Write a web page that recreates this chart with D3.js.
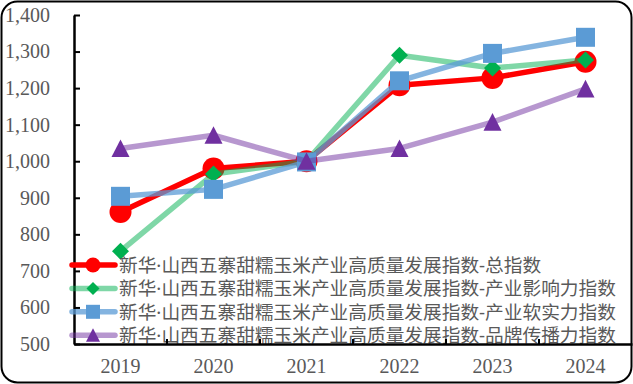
<!DOCTYPE html>
<html>
<head>
<meta charset="utf-8">
<script src="https://cdn.jsdelivr.net/npm/d3@7"></script>
<style>
	html, body { margin: 0; padding: 0; background: #fff; }
	svg { display: block; }
</style>
</head>
<body>
<svg id="chart" width="633" height="384"></svg>
<script>
const years = ['2019', '2020', '2021', '2022', '2023', '2024'];
const yTicks = [500, 600, 700, 800, 900, 1000, 1100, 1200, 1300, 1400];

const seriesNames = [
	'新华·山西五寨甜糯玉米产业高质量发展指数-总指数',
	'新华·山西五寨甜糯玉米产业高质量发展指数-产业影响力指数',
	'新华·山西五寨甜糯玉米产业高质量发展指数-产业软实力指数',
	'新华·山西五寨甜糯玉米产业高质量发展指数-品牌传播力指数'
];
const totalIndex = [861, 980, 1000, 1208, 1228, 1272];
const influenceIndex = [754, 965, 1000, 1290, 1255, 1277];
const softPowerIndex = [904, 923, 998, 1220, 1295, 1339];
const brandIndex = [1035, 1071, 1000, 1035, 1107, 1198];

const W = 633;
const H = 384;
const margin = { top: 15, right: 1, bottom: 40, left: 74 };
const TEXT = '#595959';

// custom markers: diamond = rotated square, triangle centred on its box
const diamond = {
	draw(ctx, size) {
		const r = size / 2;
		ctx.moveTo(0, -r); ctx.lineTo(r, 0); ctx.lineTo(0, r); ctx.lineTo(-r, 0); ctx.closePath();
	}
};
const triangle = {
	draw(ctx, size) {
		const r = size / 2;
		ctx.moveTo(0, -r); ctx.lineTo(r, r * 0.95); ctx.lineTo(-r, r * 0.95); ctx.closePath();
	}
};
const circle = {
	draw(ctx, size) {
		ctx.moveTo(size / 2, 0); ctx.arc(0, 0, size / 2, 0, Math.PI * 2);
	}
};
const square = {
	draw(ctx, size) {
		const r = size / 2;
		ctx.rect(-r, -r, size, size);
	}
};

const series = [
	{ name: seriesNames[0], values: totalIndex, line: '#ff0000', lineOpacity: 1, fill: '#ff0000', shape: circle, size: 22, legendSize: 15 },
	{ name: seriesNames[1], values: influenceIndex, line: '#00b050', lineOpacity: 0.5, fill: '#00b050', shape: diamond, size: 17, legendSize: 13 },
	{ name: seriesNames[2], values: softPowerIndex, line: '#5b9bd5', lineOpacity: 0.75, fill: '#5b9bd5', shape: square, size: 19, legendSize: 14 },
	{ name: seriesNames[3], values: brandIndex, line: '#7030a0', lineOpacity: 0.5, fill: '#7030a0', shape: triangle, size: 18, legendSize: 14 }
];

const $svg = d3.select('#chart');

// frame
$svg.append('rect')
	.attr('x', 1.5).attr('y', 1.5)
	.attr('width', W - 3).attr('height', H - 3)
	.attr('rx', 16).attr('ry', 16)
	.attr('fill', '#fff')
	.attr('stroke', '#000')
	.attr('stroke-width', 2);

const x = d3.scaleBand()
	.domain(years)
	.range([margin.left, W - margin.right])
	.padding(0);

const y = d3.scaleLinear()
	.domain([500, 1400])
	.range([H - margin.bottom, margin.top]);

// y axis
const $yAxis = $svg.append('g')
	.attr('transform', `translate(${margin.left},0)`)
	.call(d3.axisLeft(y).tickValues(yTicks).tickFormat(d3.format(',')).tickSizeInner(-6).tickSizeOuter(0).tickPadding(24));
$yAxis.select('.domain').attr('stroke', '#000').attr('stroke-width', 2.5);
$yAxis.selectAll('.tick line').attr('stroke', '#000').attr('stroke-width', 2);
$yAxis.selectAll('.tick text')
	.attr('fill', TEXT)
	.style('font-family', '"Liberation Serif", serif')
	.style('font-size', '20px');

// x axis
const $xAxis = $svg.append('g')
	.attr('transform', `translate(0,${H - margin.bottom})`)
	.call(d3.axisBottom(x).tickSize(0).tickPadding(15));
$xAxis.select('.domain').attr('stroke', '#000').attr('stroke-width', 2.5);
$xAxis.selectAll('.tick text')
	.attr('fill', TEXT)
	.style('font-family', '"Liberation Serif", serif')
	.style('font-size', '20px');
// small inward ticks between categories
$xAxis.selectAll('.sep')
	.data(years.slice(1))
	.enter()
	.append('line')
	.attr('class', 'sep')
	.attr('x1', d => x(d)).attr('x2', d => x(d))
	.attr('y1', 0).attr('y2', -5)
	.attr('stroke', '#000')
	.attr('stroke-width', 2);

const line = d3.line()
	.x((d, i) => x(years[i]) + x.bandwidth() / 2)
	.y(d => y(d));

const $plot = $svg.append('g');

series.forEach(s => {
	const $g = $plot.append('g');
	$g.append('path')
		.datum(s.values)
		.attr('d', line)
		.attr('fill', 'none')
		.attr('stroke', s.line)
		.attr('stroke-opacity', s.lineOpacity)
		.attr('stroke-width', 5.5)
		.attr('stroke-linejoin', 'round');
	$g.selectAll('.marker')
		.data(s.values)
		.enter()
		.append('path')
		.attr('class', 'marker')
		.attr('d', d3.symbol().type(s.shape).size(s.size))
		.attr('transform', (d, i) => `translate(${x(years[i]) + x.bandwidth() / 2},${y(d)})`)
		.attr('fill', s.fill);
});

// legend
const legendX = 72;
const legendY = 265;
const legendStep = 23.4;
const $legend = $svg.append('g');
series.forEach((s, i) => {
	const ly = legendY + i * legendStep;
	$legend.append('line')
		.attr('x1', legendX).attr('x2', legendX + 43)
		.attr('y1', ly).attr('y2', ly)
		.attr('stroke', s.line)
		.attr('stroke-opacity', s.lineOpacity)
		.attr('stroke-width', 5.5)
		.attr('stroke-linecap', 'round');
	$legend.append('path')
		.attr('d', d3.symbol().type(s.shape).size(s.legendSize))
		.attr('transform', `translate(${legendX + 21},${ly})`)
		.attr('fill', s.fill);
	$legend.append('text')
		.attr('x', legendX + 47)
		.attr('y', ly)
		.attr('dy', '0.36em')
		.attr('fill', TEXT)
		.style('font-family', '"Noto Sans", "Noto Sans CJK SC", sans-serif')
		.style('font-size', '18.7px')
		.text(s.name);
});

// axis lines drawn over the legend like in the original
$svg.node().appendChild($xAxis.node());
</script>
</body>
</html>
